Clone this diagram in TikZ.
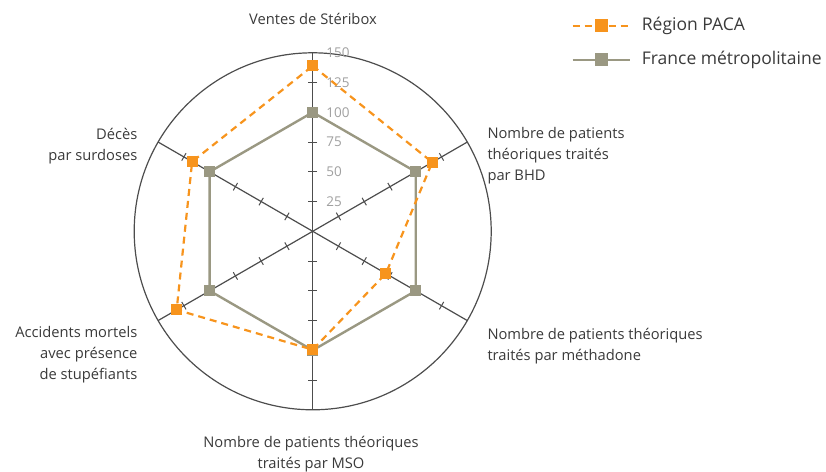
\documentclass[tikz,border=0pt]{standalone}
\usepackage{fontspec}
\setmainfont{Open Sans}
\definecolor{axisgray}{HTML}{4D4D4D}
\definecolor{pacaorange}{HTML}{F7941D}
\definecolor{francegray}{HTML}{9A9882}
\definecolor{labelgray}{HTML}{3A3A3A}
\definecolor{tickgray}{HTML}{A0A0A0}
\begin{document}
\begin{tikzpicture}[x=1pt,y=1pt,
  axisline/.style={draw=axisgray, line width=1.2pt},
  tickmark/.style={draw=axisgray, line width=1pt},
  pacaline/.style={draw=pacaorange, line width=2.2pt, dash pattern=on 7pt off 5pt},
  franceline/.style={draw=francegray, line width=2.4pt},
  pacamark/.style={rectangle, fill=pacaorange, minimum size=11pt, inner sep=0pt},
  francemark/.style={rectangle, fill=francegray, minimum size=11pt, inner sep=0pt},
  legmark/.style={rectangle, minimum size=13pt, inner sep=0pt},
  lbl/.style={font=\fontsize{14.7}{21}\selectfont, text=labelgray, inner sep=0pt},
  leglbl/.style={font=\fontsize{17.5}{20}\selectfont, text=labelgray, inner sep=0pt, anchor=west},
  ticklbl/.style={font=\fontsize{13.5}{15}\selectfont, text=tickgray, inner sep=0pt, anchor=west}
]
\useasboundingbox (0,0) rectangle (826,471);
\begin{scope}[shift={(312.7,239.7)}]
  \draw[axisline] (0,0) circle (178.5);
  \foreach \a in {90,30,-30,-90,-150,150} {
    \draw[axisline] (0,0) -- (\a:178.5);
    \foreach \r in {1,...,5}
      \draw[tickmark, rotate=\a] (\r*29.75,-4.3) -- (\r*29.75,4.3);
  }
  % tick labels
  \foreach \v/\r in {25/1,50/2,75/3,100/4,125/5,150/6}
    \node[ticklbl] (t\v) at (13.5,\r*29.75) {\v};
  % France metropolitaine (all 100)
  \coordinate (f1) at (90:119);
  \coordinate (f2) at (30:119);
  \coordinate (f3) at (-30:119);
  \coordinate (f4) at (-90:119);
  \coordinate (f5) at (-150:119);
  \coordinate (f6) at (150:119);
  \draw[franceline] (f1) -- (f2) -- (f3) -- (f4) -- (f5) -- (f6) -- cycle;
  \foreach \i in {1,...,6} \node[francemark] (fm\i) at (f\i) {};
  % Region PACA
  \coordinate (p1) at (90:{139*1.19});
  \coordinate (p2) at (30:{116*1.19});
  \coordinate (p3) at (-30:{71*1.19});
  \coordinate (p4) at (-90:{99.5*1.19});
  \coordinate (p5) at (-150:{132*1.19});
  \coordinate (p6) at (150:{117*1.19});
  \draw[pacaline] (p1) -- (p2) -- (p3) -- (p4) -- (p5) -- (p6) -- cycle;
  \foreach \i in {1,...,6} \node[pacamark] (pm\i) at (p\i) {};
\end{scope}
% axis labels
\node[lbl] (lab1) at (313,452) {Ventes de Stéribox};
\node[lbl, align=left, anchor=west] (lab2) at (487.3,315.3) {Nombre de patients\\théoriques traités\\par BHD};
\node[lbl, align=left, anchor=west] (lab3) at (487.3,124.7) {Nombre de patients théoriques\\traités par méthadone};
\node[lbl, align=center] (lab4) at (311,16.5) {Nombre de patients théoriques\\traités par MSO};
\node[lbl, align=right, anchor=east] (lab5) at (137.5,324.7) {Décès\\par surdoses};
\node[lbl, align=right, anchor=east] (lab6) at (137.5,116) {Accidents mortels\\avec présence\\de stupéfiants};
% legend
\coordinate (la) at (572.7,445);
\coordinate (lb) at (630,445);
\coordinate (lc) at (572.7,411);
\coordinate (ld) at (630,411);
\draw[pacaline] (la) -- (lb);
\node[legmark, fill=pacaorange] (lm1) at (601.7,445) {};
\draw[franceline] (lc) -- (ld);
\node[legmark, fill=francegray] (lm2) at (601.7,411) {};
\node[leglbl] (lt1) at (641.7,445) {Région PACA};
\node[leglbl] (lt2) at (641.7,411) {France métropolitaine};
\end{tikzpicture}
\end{document}
